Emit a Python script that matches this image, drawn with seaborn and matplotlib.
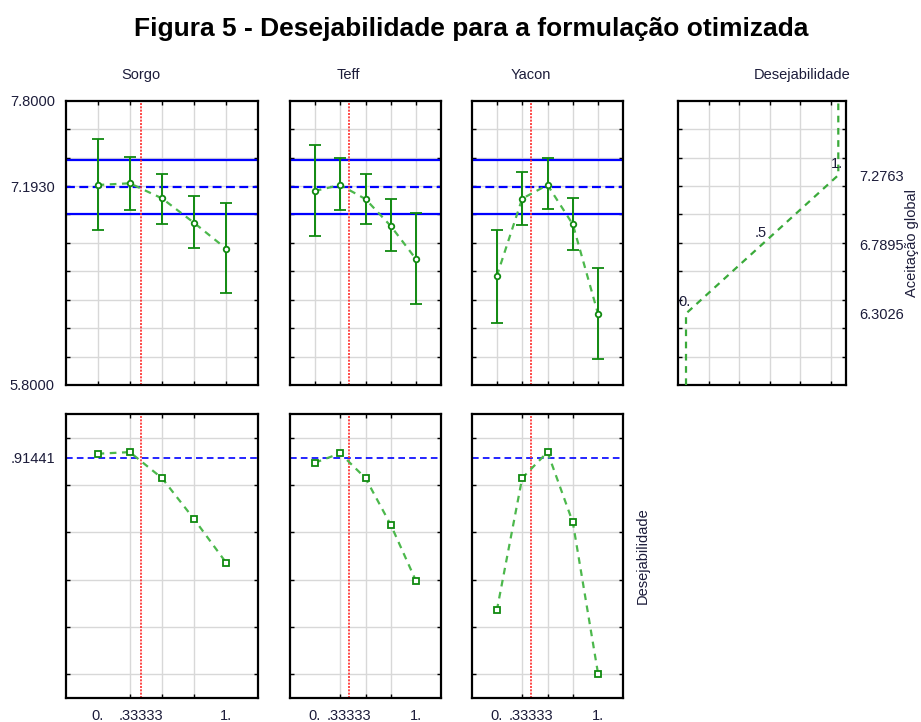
import numpy as np
import pandas as pd
import seaborn as sns
import matplotlib
matplotlib.use("Agg")
import matplotlib.pyplot as plt
from matplotlib.ticker import FixedLocator, NullFormatter

# ---------------- data ----------------
levels = [0.0, 0.25, 0.5, 0.75, 1.0]
factors = ["Sorgo", "Teff", "Yacon"]

sorgo_mean = [7.207, 7.219, 7.113, 6.940, 6.757]
sorgo_upper = [7.530, 7.402, 7.284, 7.127, 7.083]
sorgo_lower = [6.890, 7.031, 6.933, 6.762, 6.445]

teff_mean = [7.165, 7.207, 7.108, 6.918, 6.684]
teff_upper = [7.488, 7.395, 7.286, 7.106, 7.012]
teff_lower = [6.848, 7.029, 6.935, 6.743, 6.368]

yacon_mean = [6.567, 7.111, 7.207, 6.930, 6.297]
yacon_upper = [6.890, 7.296, 7.395, 7.113, 6.623]
yacon_lower = [6.238, 6.926, 7.040, 6.752, 5.981]

sorgo_desir = [0.932, 0.939, 0.829, 0.655, 0.470]
teff_desir = [0.894, 0.934, 0.829, 0.631, 0.393]
yacon_desir = [0.270, 0.829, 0.939, 0.642, 0.000]

predicted = 7.1930
ci_upper = 7.383
ci_lower = 7.005
optimum = 0.33333
overall_desir = 0.91441

desir_curve_d = [0.0, 0.0, 0.5, 1.0, 1.0]
desir_curve_y = [5.8, 6.3026, 6.7895, 7.2763, 7.8]
desir_point_labels = ["0.", ".5", "1."]
desir_ytick_values = [7.2763, 6.7895, 6.3026]

top_ylim = (5.8, 7.8)
top_yticks = [7.8, 7.1930, 5.8]
top_yticklabels = ["7.8000", "7.1930", "5.8000"]
bottom_ylim = (-0.1, 1.1)
bottom_xticks = [0.0, 0.33333, 1.0]
bottom_xticklabels = ["0.", ".33333", "1."]

# ---------------- style ----------------
sns.set_theme(style="white")
plt.rcParams["font.family"] = ["Liberation Sans", "DejaVu Sans"]
TXT = "#1c1c3a"
GREEN = "#108a10"
LGREEN = "#4cb84c"
GRID = "#d8d8d8"
RED = "#ff2a2a"

W, H = 921, 722
fig = plt.figure(figsize=(W / 100, H / 100), dpi=100)


def px_axes(x0, x1, y0, y1):
    return fig.add_axes([x0 / W, 1 - y1 / H, (x1 - x0) / W, (y1 - y0) / H])


def style_axes(ax, xgrid, ygrid):
    ax.xaxis.set_minor_locator(FixedLocator(xgrid))
    ax.yaxis.set_minor_locator(FixedLocator(ygrid))
    ax.xaxis.set_minor_formatter(NullFormatter())
    ax.yaxis.set_minor_formatter(NullFormatter())
    ax.grid(False, which="major")
    ax.grid(True, which="minor", color=GRID, lw=1.0, zorder=0)
    ax.set_axisbelow(True)
    ax.tick_params(which="minor", direction="in", length=3, width=1,
                   color="black", top=True, bottom=True, left=True, right=True)
    ax.tick_params(which="major", length=0, labelsize=10.5, labelcolor=TXT, pad=8)
    for s in ax.spines.values():
        s.set_color("black")
        s.set_linewidth(1.6)
        s.set_visible(True)


cols_x = [(66, 258), (290, 441), (472, 623)]
top_y = (100.7, 385)
bot_y = (414, 698)
xlim = (-0.245, 1.245)
xgrid = levels
top_grid = [5.8 + 0.2 * k for k in range(1, 10)]
bot_grid = [0.0, 0.2, 0.4, 0.6, 0.8, 1.0]

means = [sorgo_mean, teff_mean, yacon_mean]
uppers = [sorgo_upper, teff_upper, yacon_upper]
lowers = [sorgo_lower, teff_lower, yacon_lower]
desirs = [sorgo_desir, teff_desir, yacon_desir]

for i, name in enumerate(factors):
    x0, x1 = cols_x[i]
    # ---- top panel ----
    ax = px_axes(x0, x1, *top_y)
    style_axes(ax, xgrid, top_grid)
    ax.set_xlim(*xlim)
    ax.set_ylim(*top_ylim)
    ax.set_xticks([])
    if i == 0:
        ax.set_yticks(top_yticks)
        ax.set_yticklabels(top_yticklabels)
    else:
        ax.set_yticks([])
    ax.axhline(ci_upper, color="#0000ff", lw=1.6, zorder=2)
    ax.axhline(ci_lower, color="#0000ff", lw=1.6, zorder=2)
    ax.axhline(predicted, color="#0000ff", lw=1.6, ls=(0, (4, 2)), zorder=2)
    ax.axvline(optimum, color=RED, lw=1.2, ls=(0, (1.2, 0.8)), zorder=2)
    df = pd.DataFrame({"x": levels, "y": means[i]})
    sns.lineplot(data=df, x="x", y="y", ax=ax, color=LGREEN, lw=1.6,
                 linestyle=(0, (3, 2.5)), zorder=3)
    m = np.array(means[i])
    yerr = [m - np.array(lowers[i]), np.array(uppers[i]) - m]
    ax.errorbar(levels, means[i], yerr=yerr, fmt="o", ms=4, mfc="white",
                mec=GREEN, mew=1.3, ecolor=GREEN, elinewidth=1.4,
                capsize=4, capthick=1.4, zorder=4)
    ax.set_xlabel("")
    ax.set_ylabel("")
    cx = x0 + (optimum - xlim[0]) / (xlim[1] - xlim[0]) * (x1 - x0)
    fig.text(cx / W, 1 - 75 / H, name, ha="center", va="center",
             fontsize=10.5, color=TXT)

    # ---- bottom panel ----
    ax = px_axes(x0, x1, *bot_y)
    style_axes(ax, xgrid, bot_grid)
    ax.set_xlim(*xlim)
    ax.set_ylim(*bottom_ylim)
    ax.set_xticks(bottom_xticks)
    ax.set_xticklabels(bottom_xticklabels)
    if i == 0:
        ax.set_yticks([overall_desir])
        ax.set_yticklabels([".91441"])
    else:
        ax.set_yticks([])
    ax.axhline(overall_desir, color="#0000ff", lw=1.2, ls=(0, (4, 2.5)), zorder=2)
    ax.axvline(optimum, color=RED, lw=1.2, ls=(0, (1.2, 0.8)), zorder=2)
    df = pd.DataFrame({"x": levels, "d": desirs[i]})
    sns.lineplot(data=df, x="x", y="d", ax=ax, color=LGREEN, lw=1.6,
                 linestyle=(0, (3, 2.5)), zorder=3)
    ax.plot(levels, desirs[i], ls="none", marker="s", ms=5, mfc="white",
            mec=GREEN, mew=1.3, zorder=4)
    ax.set_xlabel("")
    ax.set_ylabel("")

# ---- desirability function panel ----
ax = px_axes(678.3, 845.7, *top_y)
style_axes(ax, [0.15, 0.35, 0.55, 0.75, 0.95], top_grid)
ax.set_xlim(-0.0506, 1.0486)
ax.set_ylim(*top_ylim)
ax.set_xticks([])
ax.yaxis.tick_right()
ax.set_yticks(desir_ytick_values)
ax.set_yticklabels(["7.2763", "6.7895", "6.3026"])
ax.tick_params(which="minor", left=True, right=True)
ax.tick_params(which="major", labelleft=False, labelright=True, pad=10)
df = pd.DataFrame({"d": desir_curve_d, "y": desir_curve_y})
sns.lineplot(data=df, x="d", y="y", ax=ax, color="#3aaa3a", lw=1.6,
             linestyle=(0, (3, 2.5)), sort=False, estimator=None, zorder=3)
for lab, d, yv in zip(desir_point_labels, [0.0, 0.5, 1.0], desir_ytick_values[::-1]):
    ax.annotate(lab, (d, yv), xytext=(-1, 3), textcoords="offset points",
                ha="center", va="bottom", fontsize=10.5, color=TXT)
ax.set_xlabel("")
ax.set_ylabel("")
fig.text(801.7 / W, 1 - 75 / H, "Desejabilidade", ha="center", va="center",
         fontsize=10.5, color=TXT)
fig.text(912 / W, 1 - 243 / H, "Aceitação global", ha="center", va="center",
         rotation=90, fontsize=10.5, color=TXT)
fig.text(643 / W, 1 - 556 / H, "Desejabilidade", ha="center", va="center",
         rotation=90, fontsize=10.5, color=TXT)

fig.text(471 / W, 1 - 29 / H, "Figura 5 - Desejabilidade para a formulação otimizada",
         ha="center", va="center", fontsize=19, fontweight="bold", color="black")

fig.savefig("out.png", dpi=100)
